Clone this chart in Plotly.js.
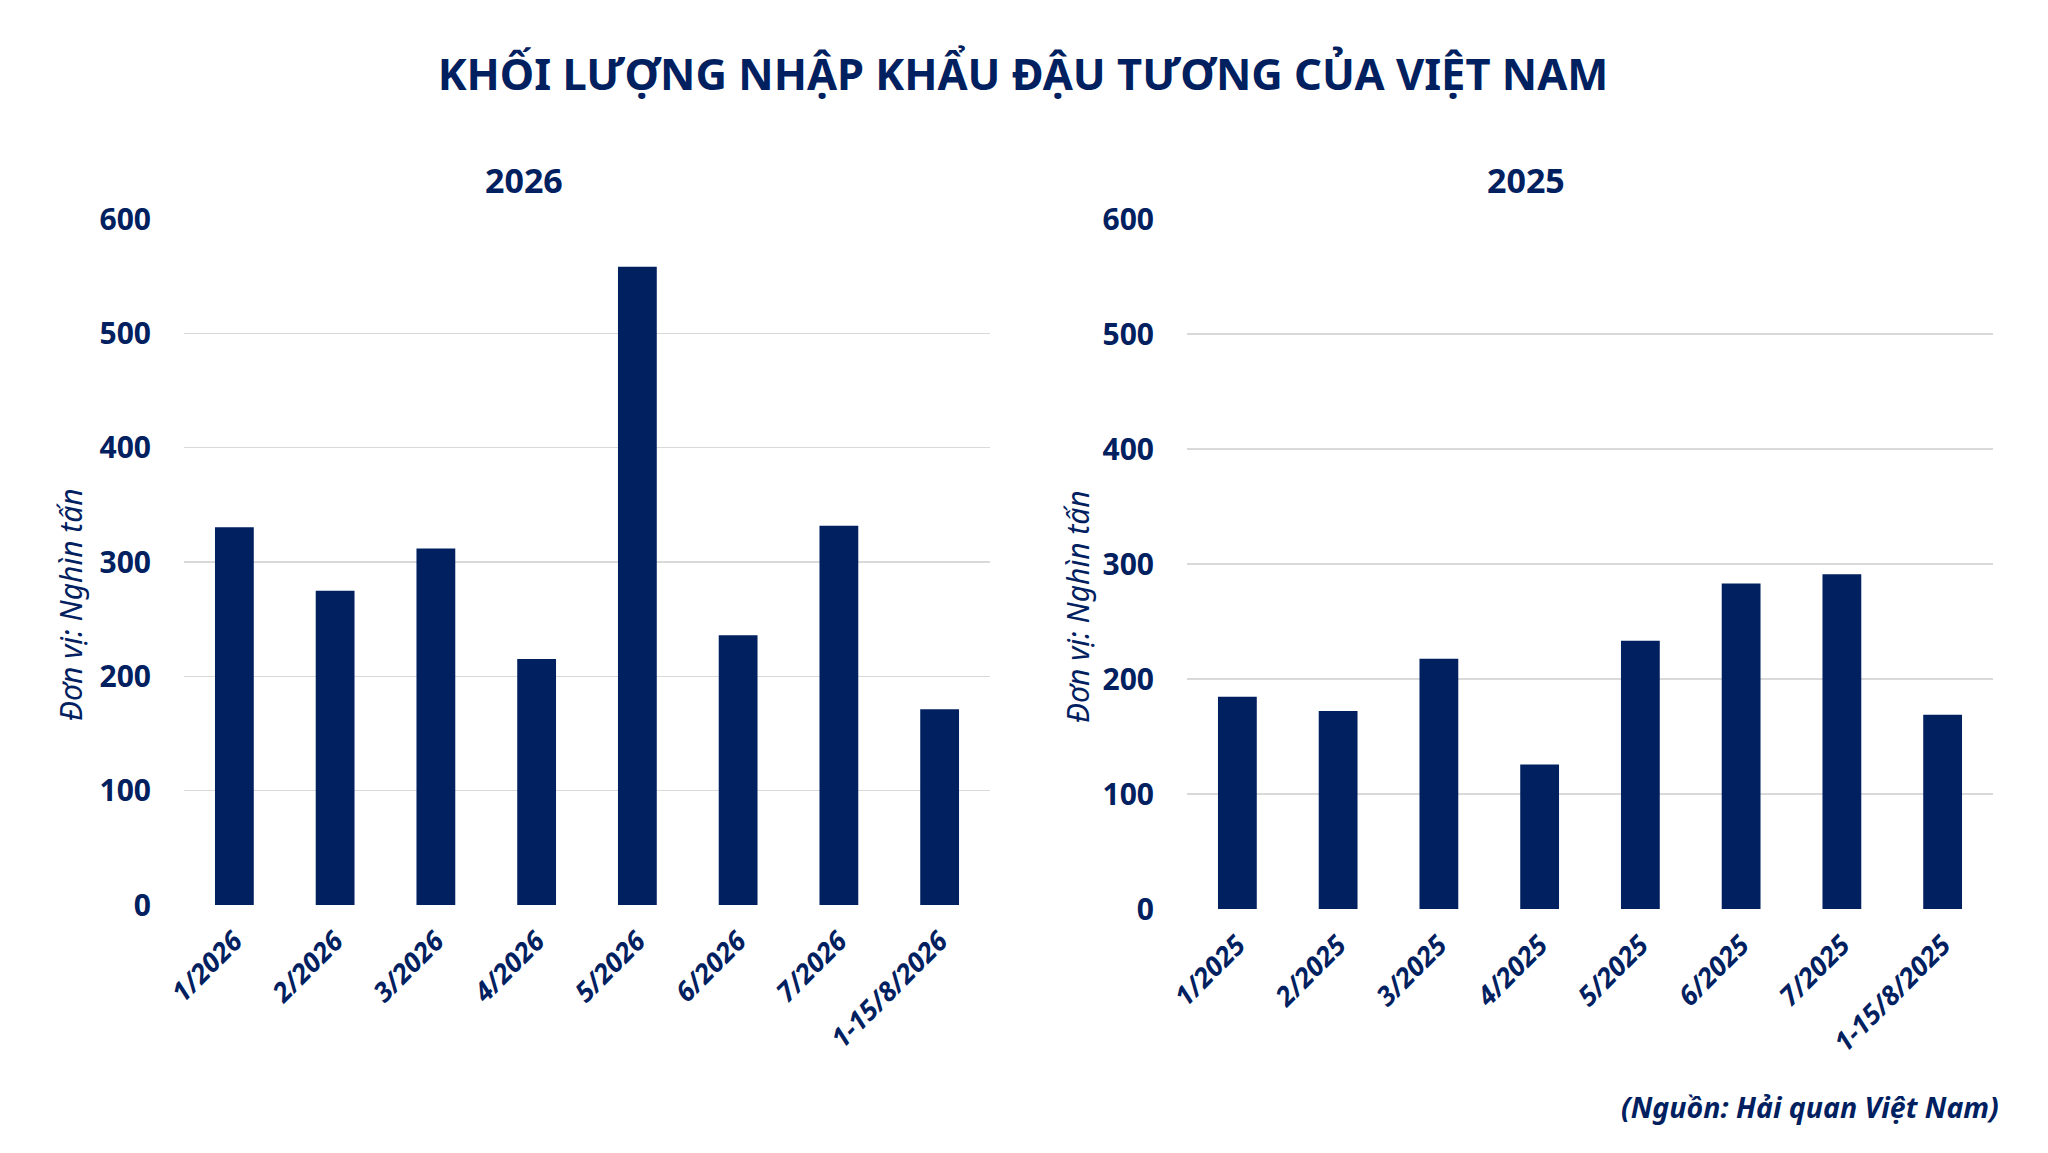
<!DOCTYPE html>
<html>
<head>
<meta charset="utf-8">
<script src="https://cdn.plot.ly/plotly-3.0.1.min.js"></script>
<style>html,body{margin:0;padding:0;background:#fff;}#chart{width:2048px;height:1153px;}</style>
</head>
<body>
<div id="chart"></div>
<script>
const categories2026 = ["1/2026","2/2026","3/2026","4/2026","5/2026","6/2026","7/2026","1-15/8/2026"];
const values2026 = [330.5, 274.9, 311.7, 215.2, 558.3, 235.9, 331.8, 171.3];
const categories2025 = ["1/2025","2/2025","3/2025","4/2025","5/2025","6/2025","7/2025","1-15/8/2025"];
const values2025 = [184.6, 172.1, 217.6, 125.7, 233.2, 283.1, 291.1, 169.0];
const yTicks = [0, 100, 200, 300, 400, 500, 600];
const mainTitle = "KHỐI LƯỢNG NHẬP KHẨU ĐẬU TƯƠNG CỦA VIỆT NAM";
const subTitles = ["2026", "2025"];
const yTitle = "Đơn vị: Nghìn tấn";
const sourceText = "(Nguồn: Hải quan Việt Nam)";

const NAVY = "#002060";
const FONT = "Noto Sans, Open Sans, sans-serif";
const W = 2048, H = 1153;

const traces = [
  {type:"bar", x:categories2026, y:values2026, xaxis:"x", yaxis:"y", marker:{color:NAVY}, hoverinfo:"x+y", showlegend:false},
  {type:"bar", x:categories2025, y:values2025, xaxis:"x2", yaxis:"y2", marker:{color:NAVY}, hoverinfo:"x+y", showlegend:false}
];

function xAxis(domain, anchor){
  return {domain:domain, anchor:anchor, type:"category", tickangle:-45, showgrid:false, zeroline:false, showline:false,
    ticks:"", ticklabelstandoff:14, tickfont:{family:FONT, size:27, color:NAVY, weight:"bold", style:"italic"}, automargin:false};
}
function yAxis(domain, anchor){
  return {domain:domain, anchor:anchor, range:[0,600], tickvals:yTicks, showgrid:true, gridcolor:"#d9d9d9", gridwidth:1.3,
    zeroline:false, showline:false, ticks:"", ticklabelstandoff:32,
    tickfont:{family:FONT, size:30, color:NAVY, weight:"bold"}, automargin:false};
}

const layout = {
  width:W, height:H, paper_bgcolor:"#fff", plot_bgcolor:"#fff",
  margin:{l:0, r:0, t:0, b:0},
  bargap:0.615,
  title:{text:mainTitle, x:1023/W, xanchor:"center", y:1-75/H, yanchor:"middle", font:{family:FONT, size:43.5, color:NAVY, weight:"bold"}},
  xaxis:xAxis([184/W, 990/W], "y"),
  yaxis:yAxis([1-905/H, 1-219/H], "x"),
  xaxis2:xAxis([1187/W, 1993/W], "y2"),
  yaxis2:yAxis([1-909/H, 1-219/H], "x2"),
  annotations:[
    {text:subTitles[0], xref:"paper", yref:"paper", x:524/W, y:1-180/H, xanchor:"center", yanchor:"middle", showarrow:false, font:{family:FONT, size:34, color:NAVY, weight:"bold"}},
    {text:subTitles[1], xref:"paper", yref:"paper", x:1526/W, y:1-180/H, xanchor:"center", yanchor:"middle", showarrow:false, font:{family:FONT, size:34, color:NAVY, weight:"bold"}},
    {text:yTitle, xref:"paper", yref:"paper", x:70/W, y:1-605/H, xanchor:"center", yanchor:"middle", textangle:-90, showarrow:false, font:{family:FONT, size:30, color:NAVY, style:"italic"}},
    {text:yTitle, xref:"paper", yref:"paper", x:1077/W, y:1-607/H, xanchor:"center", yanchor:"middle", textangle:-90, showarrow:false, font:{family:FONT, size:30, color:NAVY, style:"italic"}},
    {text:sourceText, xref:"paper", yref:"paper", x:2001/W, y:1-1107/H, xanchor:"right", yanchor:"middle", showarrow:false, font:{family:FONT, size:28.5, color:NAVY, weight:"bold", style:"italic"}}
  ]
};

Plotly.newPlot("chart", traces, layout, {displayModeBar:false, staticPlot:true});
</script>
</body>
</html>
